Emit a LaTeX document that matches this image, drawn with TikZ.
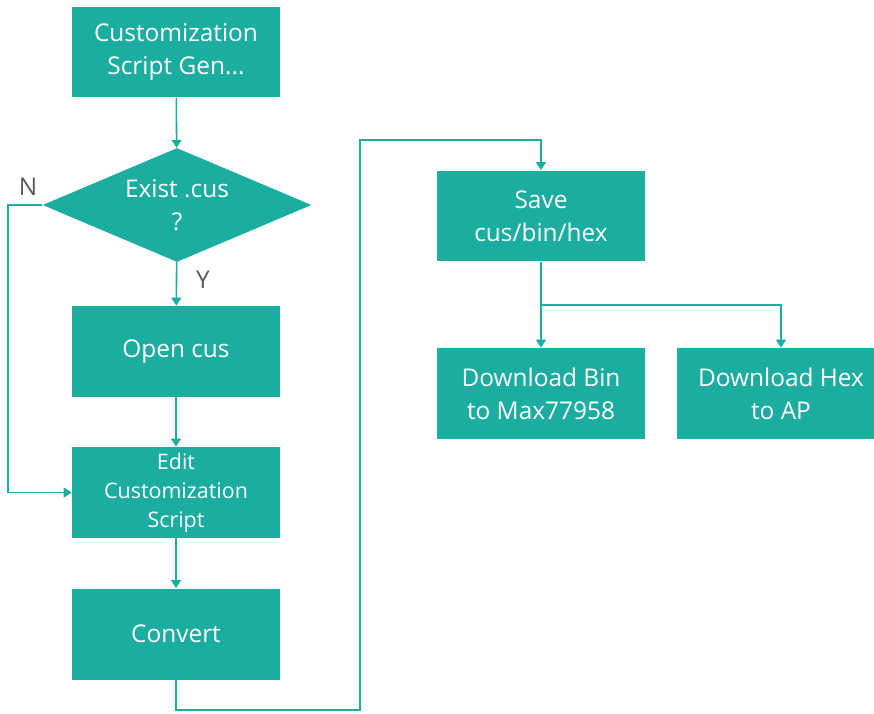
\documentclass[tikz,border=0pt]{standalone}
\usepackage{fontspec}
\setmainfont{Open Sans}
\usetikzlibrary{positioning, shapes.geometric, arrows.meta}
\definecolor{boxteal}{HTML}{1AADA0}
\definecolor{markgray}{HTML}{595959}

\begin{document}
\begin{tikzpicture}[x=0.02cm, y=-0.02cm,
    blk/.style={rectangle, fill=boxteal, text=white, minimum width=4.16cm, minimum height=1.82cm, inner sep=2pt, align=center, font=\fontsize{13.9}{18.8}\selectfont},
    dec/.style={diamond, fill=boxteal, text=white, aspect=2.36, minimum width=5.38cm, minimum height=2.28cm, inner sep=0pt, align=center, font=\fontsize{13.9}{18.8}\selectfont},
    yn/.style={text=markgray, font=\fontsize{13.9}{16}\selectfont},
    conn/.style={draw=boxteal, line width=0.9pt, ->},
    >={Triangle[width=2mm, length=1.6mm]}
    ]

\useasboundingbox (0,0) rectangle (874,713);

\node[blk] (gen) at (176,52) {Customization\\Script Gen...};
\node[dec] (exist) at (177,205) {Exist .cus\\?};
\node[blk] (open) at (176,351.5) {Open cus};
\node[blk, font=\fontsize{12.2}{16.5}\selectfont] (edit) at (176,492.5) {Edit\\Customization\\Script};
\node[blk] (conv) at (176,634) {Convert};
\node[blk] (save) at (541,216) {Save\\cus/bin/hex};
\node[blk] (bin) at (541,393.5) {Download Bin\\to Max77958};
\node[blk] (hex) at (781,393.5) {Download Hex\\to AP};

\node[yn] (no) at (28,187) {N};
\node[yn] (yes) at (203,280) {Y};

\coordinate (nbend) at (8,205);
\coordinate (low) at (360,710);
\coordinate (high) at (360,140);
\coordinate (split) at (541,305);

\foreach \i/\j in {gen/exist, exist/open, open/edit, edit/conv, save/bin}
    \draw[conn] (\i)--(\j);

\draw[conn] (exist.west)--(nbend) |- (edit.west);
\draw[conn] (conv.south) |- (low)--(high) -| (save.north);
\draw[conn] (split) -| (hex.north);

\end{tikzpicture}
\end{document}
